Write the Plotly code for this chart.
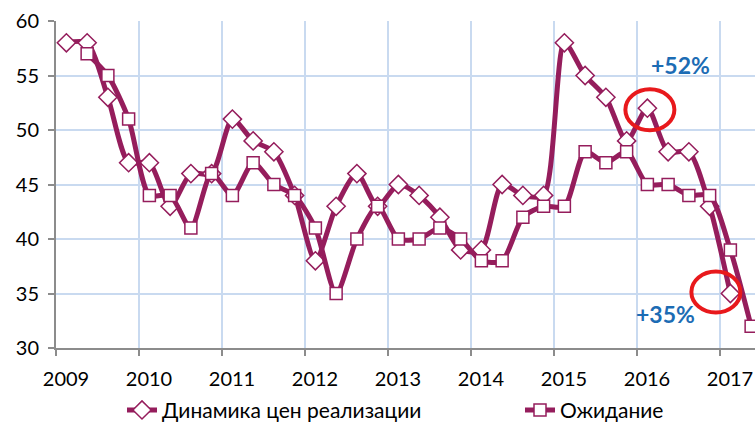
import plotly.graph_objects as go

# Quarterly data, 2009Q1 .. 2017Q2
years = [2009, 2010, 2011, 2012, 2013, 2014, 2015, 2016, 2017]
y_ticks = [30, 35, 40, 45, 50, 55, 60]

dyn_name = "Динамика цен реализации"
exp_name = "Ожидание"

dyn_values = [58, 58, 53, 47, 47, 43, 46, 46, 51, 49, 48, 44, 38, 43, 46, 43, 45,
              44, 42, 39, 39, 45, 44, 44, 58, 55, 53, 49, 52, 48, 48, 43, 35]
exp_values = [None, 57, 55, 51, 44, 44, 41, 46, 44, 47, 45, 44, 41, 35, 40, 43, 40,
              40, 41, 40, 38, 38, 42, 43, 43, 48, 47, 48, 45, 45, 44, 44, 39, 32]

# quarter midpoints
x_dyn = [2009 + (i + 0.5) / 4 for i in range(len(dyn_values))]
x_exp = [2009 + (i + 0.5) / 4 for i in range(len(exp_values))]

color = "#951D5C"
font_family = "Lato, Carlito, Liberation Sans, Arial"

fig = go.Figure()
fig.add_trace(go.Scatter(
    x=x_dyn, y=dyn_values, name=dyn_name, mode="lines+markers", legend="legend",
    line=dict(color=color, width=5, shape="spline", smoothing=0.7),
    marker=dict(symbol="diamond", size=14, color="white",
                line=dict(color=color, width=1.5)),
))
fig.add_trace(go.Scatter(
    x=x_exp, y=exp_values, name=exp_name, mode="lines+markers", legend="legend2",
    line=dict(color=color, width=5, shape="spline", smoothing=0.7),
    marker=dict(symbol="square", size=12, color="white",
                line=dict(color=color, width=1.5)),
))

# highlight ellipses around two points of the first series, with labels
highlights = [
    # index, label, label dx, label dy, ellipse dx, ellipse dy
    (28, "+52%", 33, 43, 2.5, -1.5),
    (32, "+35%", -65, -20, -14.5, 1.5),
]
for idx, label, ldx, ldy, edx, edy in highlights:
    xc, yc = x_dyn[idx], dyn_values[idx]
    fig.add_shape(type="circle", xref="x", yref="y", xsizemode="pixel", ysizemode="pixel",
                  xanchor=xc, yanchor=yc,
                  x0=edx - 24.5, x1=edx + 24.5, y0=edy - 20.5, y1=edy + 20.5,
                  line=dict(color="#E8191C", width=4))
    fig.add_annotation(x=xc, y=yc, text="<b>" + label + "</b>", showarrow=False,
                       xshift=ldx, yshift=ldy,
                       font=dict(family=font_family, size=23, color="#1C6CB4"))

legend_common = dict(orientation="h", xref="container", yref="container",
                     yanchor="middle", y=0.03, xanchor="left",
                     font=dict(family=font_family, size=21, color="black"),
                     bgcolor="rgba(0,0,0,0)")
fig.update_layout(
    width=755, height=423,
    margin=dict(l=56, r=0, t=21, b=75),
    paper_bgcolor="white", plot_bgcolor="white",
    showlegend=True,
    legend=dict(x=122 / 755, **legend_common),
    legend2=dict(x=520 / 755, **legend_common),
    font=dict(family=font_family, size=20, color="black"),
)
fig.update_xaxes(
    range=[2009, 2009 + 699 / 83], tickvals=years, ticktext=[str(y) for y in years],
    ticklabelshift=10, ticklabelstandoff=6,
    showgrid=True, gridcolor="#C9DAF0", gridwidth=1.5,
    showline=True, linecolor="#8C8C8C", linewidth=2,
    ticks="outside", ticklen=6, tickcolor="#8C8C8C", tickwidth=2,
    zeroline=False, automargin=False,
)
fig.update_yaxes(
    range=[30, 60], tickvals=y_ticks, ticklabelstandoff=5,
    showgrid=True, gridcolor="#C9DAF0", gridwidth=1.5,
    showline=True, linecolor="#8C8C8C", linewidth=2,
    ticks="outside", ticklen=6, tickcolor="#8C8C8C", tickwidth=2,
    zeroline=False, automargin=False,
)

fig.write_html("out.html", config={"displayModeBar": False},
               post_script="document.body.style.margin='0';document.body.style.overflow='hidden';")
